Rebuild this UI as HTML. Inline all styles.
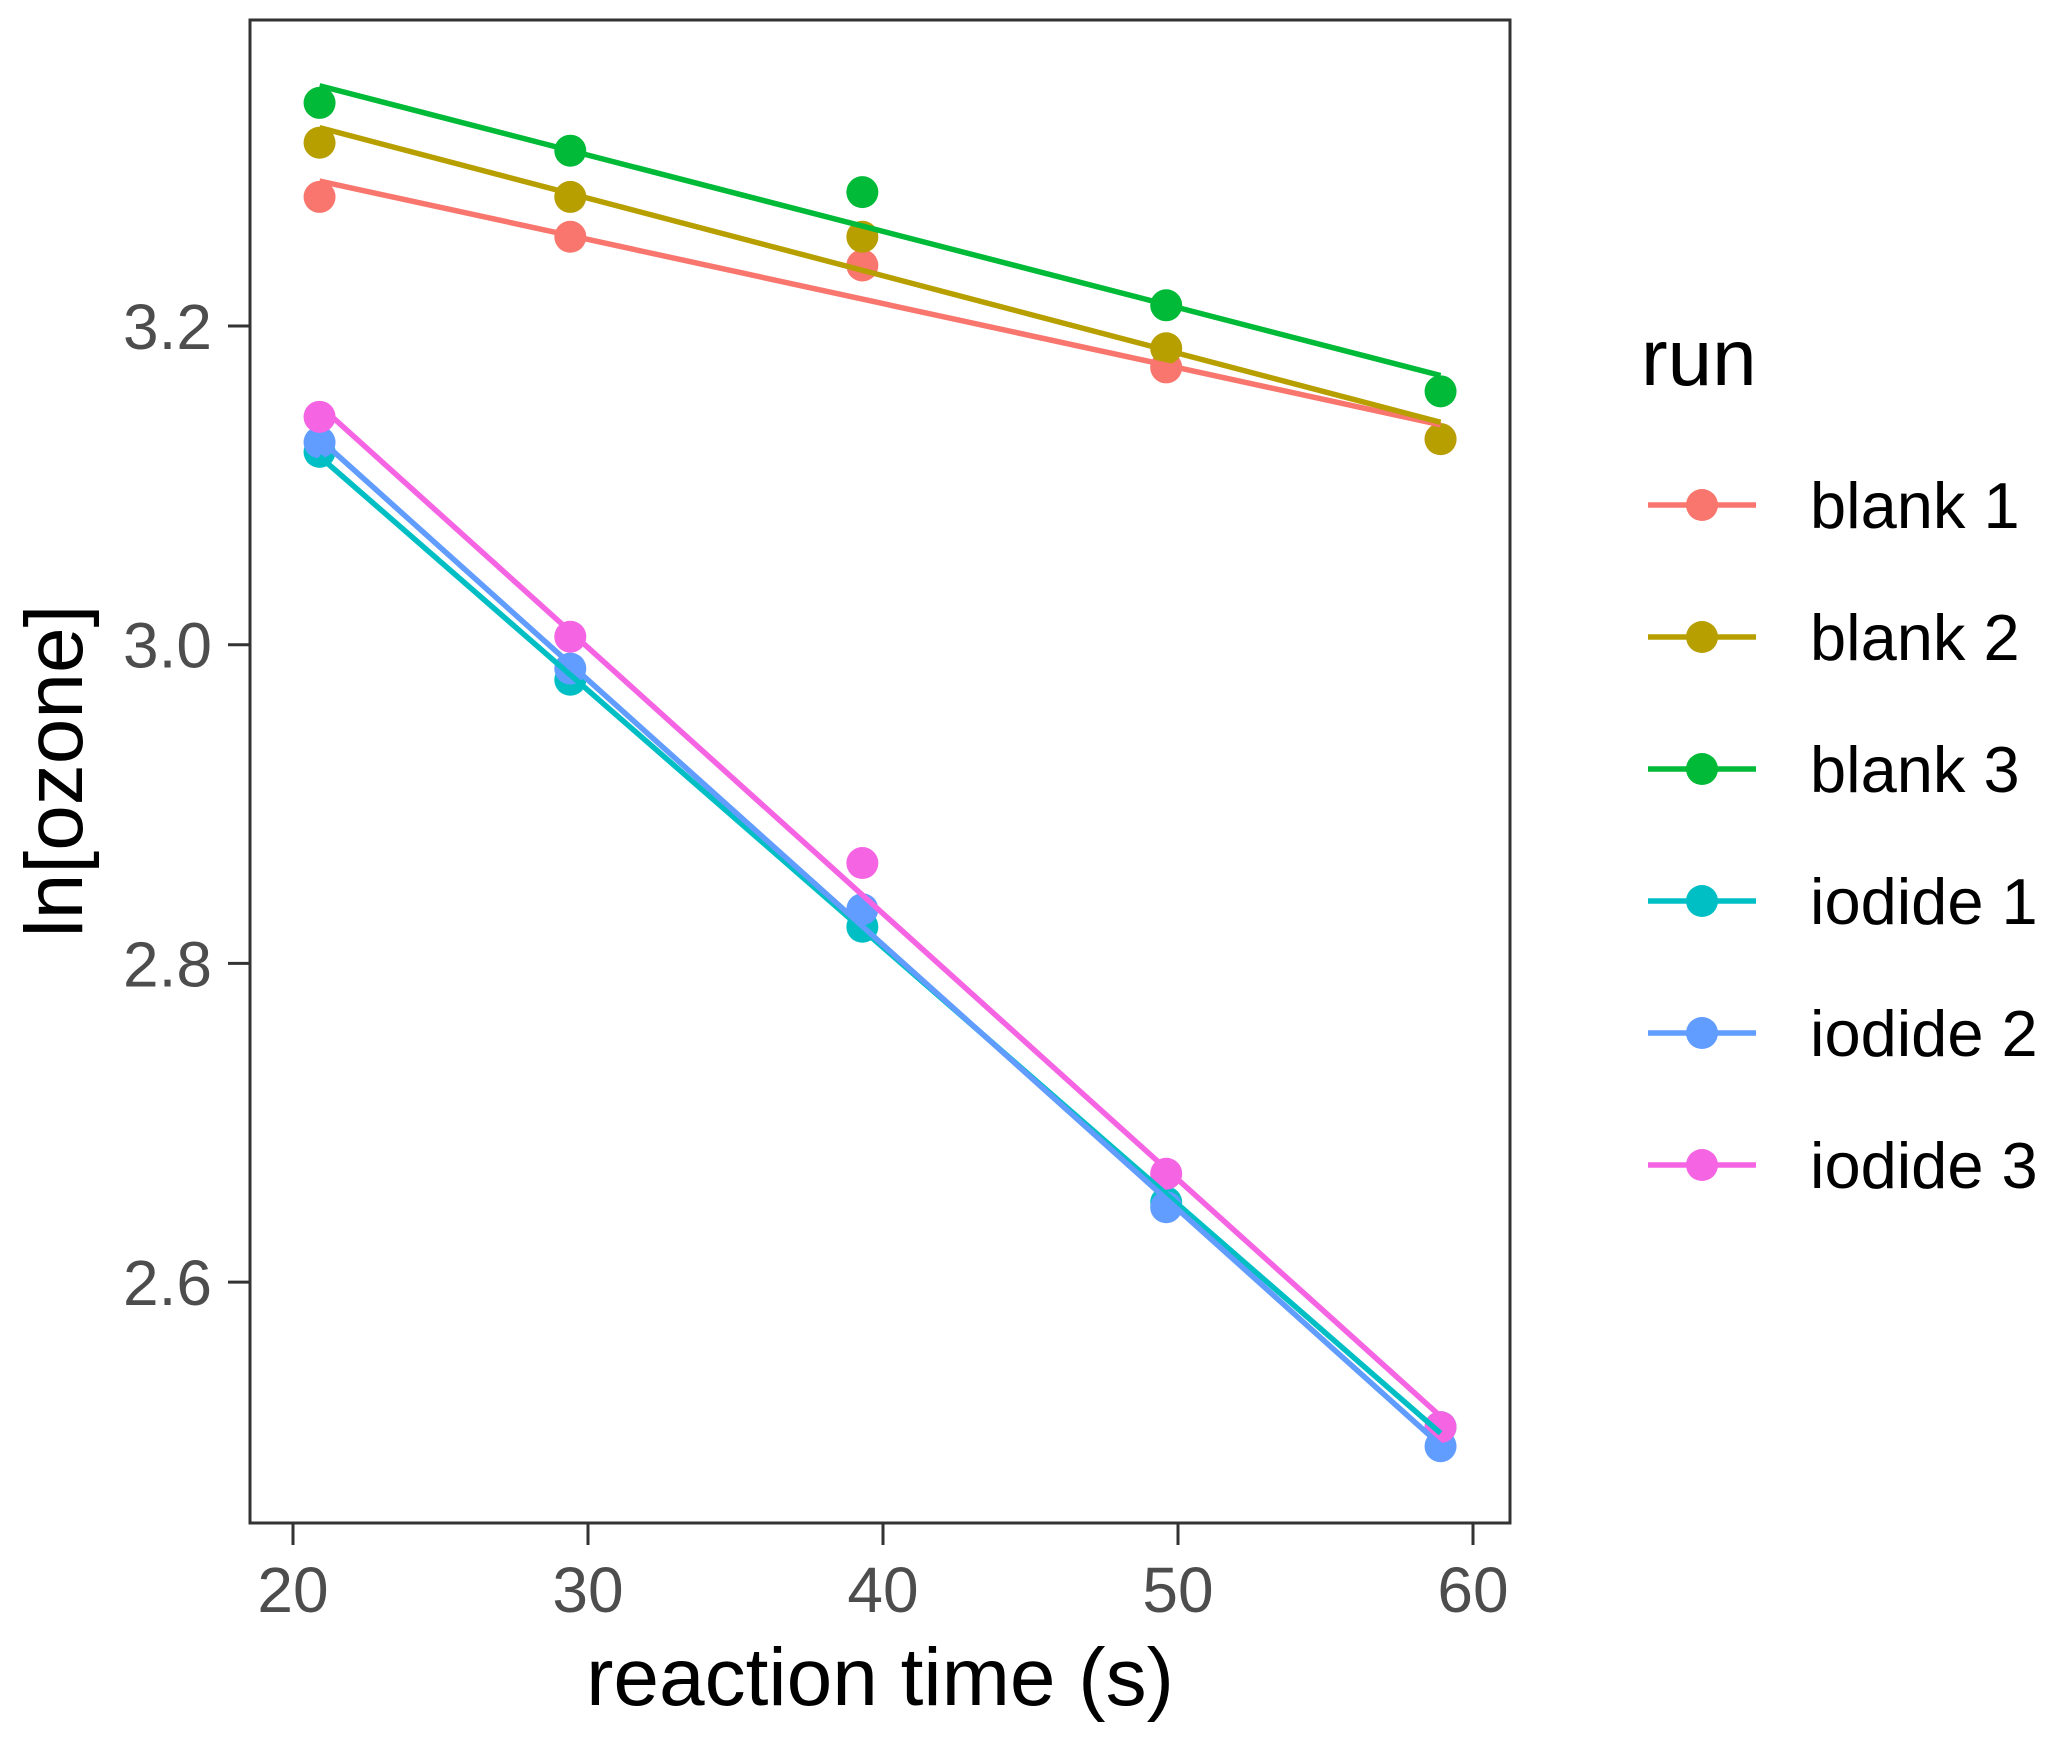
<!DOCTYPE html>
<html><head><meta charset="utf-8"><style>
html,body{margin:0;padding:0;background:#fff;}
svg{display:block;font-family:"Liberation Sans",Arial,sans-serif;}
</style></head><body>
<svg id="chart" width="2067" height="1743" viewBox="0 0 2067 1743">
<rect x="0" y="0" width="2067" height="1743" fill="#fff"/>
<g id="marks"></g>
<rect x="250" y="20" width="1260" height="1503" fill="none" stroke="#333" stroke-width="3"/>
<g id="axes"></g>
<text x="880" y="1705" font-size="82" text-anchor="middle" fill="#000">reaction time (s)</text>
<text transform="translate(82,771) rotate(-90)" font-size="82" text-anchor="middle" fill="#000">ln[ozone]</text>
<g id="legend">
<text x="1641" y="385" font-size="80" fill="#000">run</text>
</g>
</svg>
<script>
const runs = ["blank 1","blank 2","blank 3","iodide 1","iodide 2","iodide 3"];
const colors = ["#F8766D","#B79F00","#00BA38","#00BFC4","#619CFF","#F564E3"];
const times = [20.9, 29.4, 39.3, 49.6, 58.9];
const blank1 = [3.281, 3.256, 3.238, 3.174, 3.129];
const blank2 = [3.315, 3.281, 3.256, 3.186, 3.129];
const blank3 = [3.340, 3.310, 3.284, 3.213, 3.159];
const iodide1 = [3.121, 2.978, 2.823, 2.650, 2.509];
const iodide2 = [3.127, 2.985, 2.834, 2.647, 2.497];
const iodide3 = [3.143, 3.005, 2.863, 2.668, 2.509];
const xTicks = [20, 30, 40, 50, 60];
const yTicks = [2.6, 2.8, 3.0, 3.2];

const series = [blank1, blank2, blank3, iodide1, iodide2, iodide3];
const NS = "http://www.w3.org/2000/svg";
function xs(v){ return 293 + (v - 20) * 29.5; }
function ys(v){ return 326 + (3.2 - v) * 1593.5; }
const marks = document.getElementById('marks');
const axes = document.getElementById('axes');
const legend = document.getElementById('legend');

series.forEach((vals, i) => {
  vals.forEach((v, j) => {
    const c = document.createElementNS(NS, 'circle');
    c.setAttribute('cx', xs(times[j]));
    c.setAttribute('cy', ys(v));
    c.setAttribute('r', 16);
    c.setAttribute('fill', colors[i]);
    
    
    marks.appendChild(c);
  });
});
series.forEach((vals, i) => {
  const n = vals.length;
  const mx = times.reduce((a,b)=>a+b,0)/n;
  const my = vals.reduce((a,b)=>a+b,0)/n;
  let sxy = 0, sxx = 0;
  for (let j = 0; j < n; j++){ sxy += (times[j]-mx)*(vals[j]-my); sxx += (times[j]-mx)**2; }
  const b = sxy / sxx, a = my - b * mx;
  const x0 = Math.min(...times), x1 = Math.max(...times);
  const l = document.createElementNS(NS, 'line');
  l.setAttribute('x1', xs(x0)); l.setAttribute('y1', ys(a + b * x0));
  l.setAttribute('x2', xs(x1)); l.setAttribute('y2', ys(a + b * x1));
  l.setAttribute('stroke', colors[i]);
  l.setAttribute('stroke-width', 5.5);
  
  
  marks.appendChild(l);
});
xTicks.forEach(t => {
  const l = document.createElementNS(NS, 'line');
  l.setAttribute('x1', xs(t)); l.setAttribute('x2', xs(t));
  l.setAttribute('y1', 1523); l.setAttribute('y2', 1545);
  l.setAttribute('stroke', '#333'); l.setAttribute('stroke-width', 3);
  
  
  axes.appendChild(l);
  const tx = document.createElementNS(NS, 'text');
  tx.setAttribute('x', xs(t)); tx.setAttribute('y', 1612);
  tx.setAttribute('font-size', 64); tx.setAttribute('text-anchor', 'middle'); tx.setAttribute('fill', '#4d4d4d');
  tx.textContent = t;
  
  
  axes.appendChild(tx);
});
yTicks.forEach(t => {
  const l = document.createElementNS(NS, 'line');
  l.setAttribute('x1', 228); l.setAttribute('x2', 250);
  l.setAttribute('y1', ys(t)); l.setAttribute('y2', ys(t));
  l.setAttribute('stroke', '#333'); l.setAttribute('stroke-width', 3);
  
  
  axes.appendChild(l);
  const tx = document.createElementNS(NS, 'text');
  tx.setAttribute('x', 212); tx.setAttribute('y', ys(t) + 23);
  tx.setAttribute('font-size', 64); tx.setAttribute('text-anchor', 'end'); tx.setAttribute('fill', '#4d4d4d');
  tx.textContent = t.toFixed(1);
  
  
  axes.appendChild(tx);
});
runs.forEach((r, i) => {
  const y = 505 + i * 132;
  const g = document.createElementNS(NS, 'g');
  
  
  const c = document.createElementNS(NS, 'circle');
  c.setAttribute('cx', 1702); c.setAttribute('cy', y); c.setAttribute('r', 16); c.setAttribute('fill', colors[i]);
  g.appendChild(c);
  const l = document.createElementNS(NS, 'line');
  l.setAttribute('x1', 1648); l.setAttribute('x2', 1756); l.setAttribute('y1', y); l.setAttribute('y2', y);
  l.setAttribute('stroke', colors[i]); l.setAttribute('stroke-width', 5.5);
  g.appendChild(l);
  const tx = document.createElementNS(NS, 'text');
  tx.setAttribute('x', 1810); tx.setAttribute('y', y + 23);
  tx.setAttribute('font-size', 65); tx.setAttribute('fill', '#000');
  tx.textContent = r;
  g.appendChild(tx);
  legend.appendChild(g);
});
</script>
</body></html>
